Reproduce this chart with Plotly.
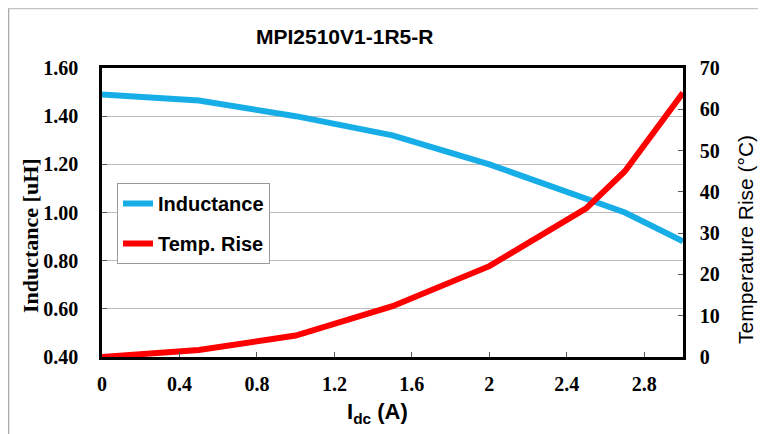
import plotly.graph_objects as go

current_a = [0, 0.5, 1.0, 1.5, 2.0, 2.5, 2.7, 3.0]
inductance_uh = [1.49, 1.465, 1.40, 1.32, 1.20, 1.06, 1.00, 0.88]
temp_rise_c = [0, 1.7, 5.2, 12.3, 22, 36, 45, 64]

x_ticks = [0, 0.4, 0.8, 1.2, 1.6, 2.0, 2.4, 2.8]
y_ticks = [0.4, 0.6, 0.8, 1.0, 1.2, 1.4, 1.6]
y2_ticks = [0, 10, 20, 30, 40, 50, 60, 70]

title_text = "MPI2510V1-1R5-R"
serif = "Liberation Serif, Times New Roman, serif"
sans = "Liberation Sans, Arial, sans-serif"

# page body has an 8px margin, so the figure is laid out 8px up/left of the window
OFF = 8
W, H = 766 - OFF, 434 - OFF
PL, PR, PT, PB = 102 - OFF, 683 - OFF, 68 - OFF, 357 - OFF
pw, ph = PR - PL, PB - PT


def px(xw):
    return (xw - OFF - PL) / pw


def py(yw):
    return (PB - (yw - OFF)) / ph


fig = go.Figure()
fig.add_trace(go.Scatter(x=current_a, y=inductance_uh, name="Inductance", mode="lines",
                         legendgroup="a",
                         line=dict(color="#17AEE8", width=6), yaxis="y"))
fig.add_trace(go.Scatter(x=current_a, y=temp_rise_c, name="Temp. Rise", mode="lines",
                         legendgroup="b",
                         line=dict(color="#FF0000", width=6), yaxis="y2"))

tickfont = dict(family=serif, size=20, color="black", weight="bold")

fig.update_layout(
    width=W, height=H,
    margin=dict(l=PL, r=W - PR, t=PT, b=H - PB, autoexpand=False),
    paper_bgcolor="white", plot_bgcolor="white",
    showlegend=True,
    legend=dict(x=px(117), y=py(183), xanchor="left", yanchor="top",
                bgcolor="white", bordercolor="#9a9a9a", borderwidth=1,
                font=dict(family=sans, size=20, color="black", weight="bold"),
                tracegroupgap=11, itemwidth=30),
    xaxis=dict(range=[0, 3], tickvals=x_ticks, ticktext=[f"{v:g}" for v in x_ticks],
               showgrid=False, zeroline=False,
               showline=True, linecolor="black", linewidth=2.5, mirror=True,
               ticks="inside", ticklen=5, tickcolor="#555", tickwidth=1,
               tickfont=tickfont, ticklabelstandoff=7),
    yaxis=dict(range=[0.4, 1.6], tickvals=y_ticks, tickformat=".2f",
               showgrid=True, gridcolor="#bcbcbc", gridwidth=1.2, zeroline=False,
               showline=True, linecolor="black", linewidth=2.5,
               ticks="inside", ticklen=5, tickcolor="#555", tickwidth=1,
               tickfont=tickfont, ticklabelstandoff=17),
    yaxis2=dict(range=[0, 70], tickvals=y2_ticks, overlaying="y", side="right",
                showgrid=False, zeroline=False,
                showline=True, linecolor="black", linewidth=2.5,
                ticks="inside", ticklen=5, tickcolor="#555", tickwidth=1,
                tickfont=tickfont, ticklabelstandoff=10),
    annotations=[
        dict(text="<b>" + title_text + "</b>", xref="paper", yref="paper",
             x=px(344), y=py(37), xanchor="center", yanchor="middle", showarrow=False,
             font=dict(family=sans, size=21, color="black")),
        dict(text="<b>Inductance [uH]</b>", xref="paper", yref="paper",
             x=px(30), y=py(236), xanchor="center", yanchor="middle", showarrow=False,
             textangle=-90, font=dict(family=serif, size=22, color="black")),
        dict(text="Temperature Rise (°C)", xref="paper", yref="paper",
             x=px(745), y=py(240), xanchor="center", yanchor="middle", showarrow=False,
             textangle=-90, font=dict(family=sans, size=21, color="black")),
        dict(text="<b>I<sub>dc</sub> (A)</b>", xref="paper", yref="paper",
             x=px(377), y=py(413), xanchor="center", yanchor="middle", showarrow=False,
             font=dict(family=sans, size=22, color="black")),
    ],
    shapes=[
        dict(type="line", xref="paper", yref="paper",
             x0=px(8.5), x1=px(764), y0=py(8.5), y1=py(8.5),
             line=dict(color="#c4c4c4", width=1.5), layer="below"),
        dict(type="line", xref="paper", yref="paper",
             x0=px(8.5), x1=px(8.5), y0=py(8.5), y1=py(440),
             line=dict(color="#a8a8a8", width=1.5), layer="below"),
    ],
)

fig.write_html("out.html")
